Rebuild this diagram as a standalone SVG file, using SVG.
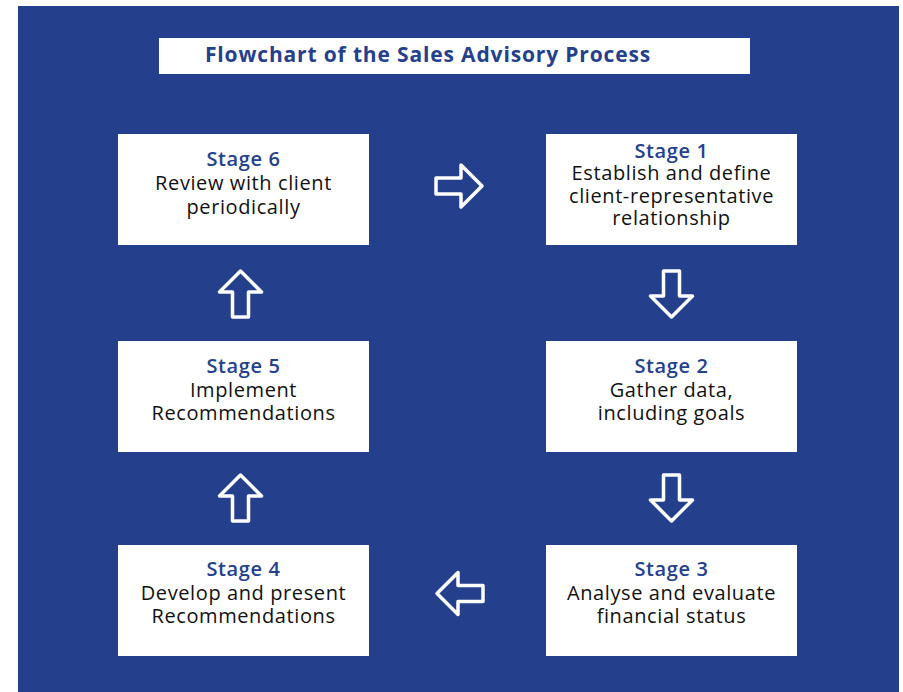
<svg xmlns="http://www.w3.org/2000/svg" width="903" height="692" viewBox="0 0 903 692">
<style>
.box{fill:#ffffff}
.stage{font-family:"Open Sans","Liberation Sans",sans-serif;font-size:20px;font-weight:600;fill:#25408d;text-anchor:middle;letter-spacing:0.6px}
.body{font-family:"Open Sans","Liberation Sans",sans-serif;font-size:20px;fill:#111111;text-anchor:middle;letter-spacing:0.6px}
.title{font-family:"Open Sans","Liberation Sans",sans-serif;font-size:21px;font-weight:700;fill:#25408d;text-anchor:middle;letter-spacing:0.85px}
.arr{fill:none;stroke:#ffffff;stroke-width:3.5;stroke-linejoin:round}
</style>
<defs>
<polygon id="arrow" points="-23,-8 2,-8 2,-21 23,0 2,21 2,8 -23,8"/>
</defs>
<rect x="0" y="0" width="903" height="692" fill="#ffffff"/>
<rect x="18" y="6" width="881" height="686" fill="#243f8c"/>
<g id="title">
<rect x="159" y="38" width="591" height="36" class="box"/>
<text x="428" y="62" class="title">Flowchart of the Sales Advisory Process</text>
</g>
<g id="stage6">
<rect x="118" y="134" width="251" height="111" class="box"/>
<text x="243.5" y="166" class="stage">Stage 6</text>
<text x="243.5" y="190" class="body">Review with client</text>
<text x="243.5" y="213.5" class="body">periodically</text>
</g>
<g id="stage1">
<rect x="546" y="134" width="251" height="111" class="box"/>
<text x="671.5" y="157.5" class="stage">Stage 1</text>
<text x="671.5" y="180" class="body">Establish and define</text>
<text x="671.5" y="202.5" class="body">client-representative</text>
<text x="671.5" y="225" class="body">relationship</text>
</g>
<g id="stage5">
<rect x="118" y="341" width="251" height="111" class="box"/>
<text x="243.5" y="373" class="stage">Stage 5</text>
<text x="243.5" y="396.5" class="body">Implement</text>
<text x="243.5" y="420" class="body">Recommendations</text>
</g>
<g id="stage2">
<rect x="546" y="341" width="251" height="111" class="box"/>
<text x="671.5" y="373" class="stage">Stage 2</text>
<text x="671.5" y="396.5" class="body">Gather data,</text>
<text x="671.5" y="420" class="body">including goals</text>
</g>
<g id="stage4">
<rect x="118" y="545" width="251" height="111" class="box"/>
<text x="243.5" y="576" class="stage">Stage 4</text>
<text x="243.5" y="599.5" class="body">Develop and present</text>
<text x="243.5" y="623" class="body">Recommendations</text>
</g>
<g id="stage3">
<rect x="546" y="545" width="251" height="111" class="box"/>
<text x="671.5" y="576" class="stage">Stage 3</text>
<text x="671.5" y="599.5" class="body">Analyse and evaluate</text>
<text x="671.5" y="623" class="body">financial status</text>
</g>
<g id="connectors">
<use href="#arrow" class="arr" transform="translate(459,186)"/>
<use href="#arrow" class="arr" transform="translate(671.5,294) rotate(90)"/>
<use href="#arrow" class="arr" transform="translate(671.5,498) rotate(90)"/>
<use href="#arrow" class="arr" transform="translate(460,593.5) rotate(180)"/>
<use href="#arrow" class="arr" transform="translate(240.5,498) rotate(-90)"/>
<use href="#arrow" class="arr" transform="translate(240.5,294) rotate(-90)"/>
</g>
</svg>
